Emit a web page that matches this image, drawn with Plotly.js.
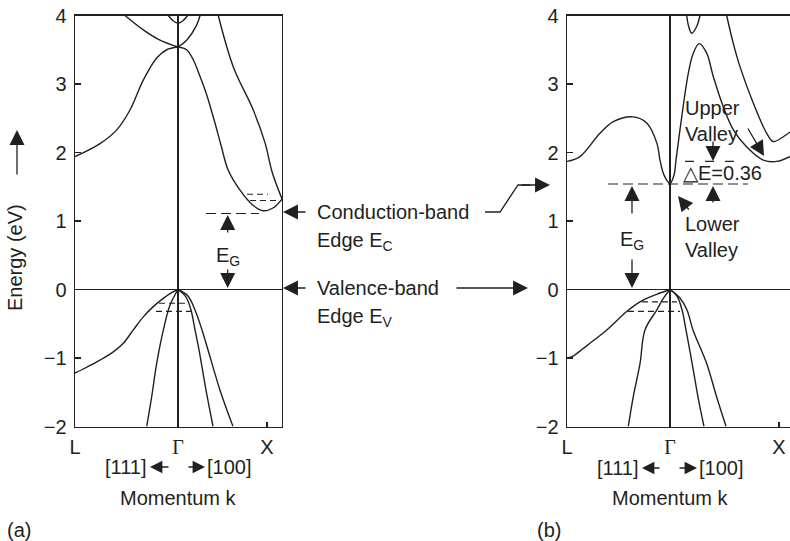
<!DOCTYPE html>
<html><head><meta charset="utf-8">
<script src="https://cdn.plot.ly/plotly-3.0.1.min.js"></script>
<style>html,body{margin:0;padding:0;background:#fff}#c{width:790px;height:541px}</style>
</head><body><div id="c"></div>
<script>
// ---------- (a) Si band structure (k: L=-1, Γ=0, X=0.864) ----------
const a_cond1_k = [-1, -0.757, -0.595, -0.466, -0.336, -0.207, -0.110, 0];
const a_cond1_E = [1.94, 2.13, 2.33, 2.62, 3.06, 3.38, 3.50, 3.54];
const a_cond2_k = [0, 0.084, 0.149, 0.214, 0.279, 0.359, 0.417, 0.488, 0.602, 0.728, 0.828, 0.922, 1.01];
const a_cond2_E = [3.54, 3.50, 3.35, 3.11, 2.84, 2.43, 2.11, 1.74, 1.45, 1.23, 1.15, 1.19, 1.32];
const a_cond3_k = [0.391, 0.537, 0.731, 0.845, 0.913, 1.01];
const a_cond3_E = [4.0, 3.25, 2.62, 2.14, 1.72, 1.32];
const a_top1_k = [-0.515, -0.337, -0.175, 0];
const a_top1_E = [4.0, 3.79, 3.64, 3.54];
const a_top2_k = [0, 0.084, 0.181, 0.214];
const a_top2_E = [3.54, 3.64, 3.86, 4.0];
const a_cap_k = [-0.094, -0.045, 0, 0.045, 0.094];
const a_cap_E = [4.0, 3.92, 3.89, 3.92, 4.0];
const a_hh_k = [-1, -0.887, -0.757, -0.628, -0.531, -0.434, -0.337, -0.240, -0.143, -0.062, 0];
const a_hh_E = [-1.22, -1.135, -1.03, -0.91, -0.785, -0.59, -0.40, -0.25, -0.13, -0.047, 0];
const a_lh_k = [-0.304, -0.255, -0.207, -0.142, -0.078, 0];
const a_lh_E = [-2.0, -1.56, -1.08, -0.59, -0.23, 0];
const a_r1_k = [0, 0.078, 0.126, 0.165, 0.204, 0.272, 0.340];
const a_r1_E = [0, -0.11, -0.30, -0.59, -0.88, -1.47, -2.0];
const a_r2_k = [0, 0.097, 0.165, 0.233, 0.291, 0.408, 0.534];
const a_r2_E = [0, -0.095, -0.30, -0.59, -0.88, -1.47, -2.0];
// dashed levels (a)
const a_dv1_k = [-0.184, 0.087], a_dv1_E = [-0.20, -0.20];
const a_dv2_k = [-0.214, 0.146], a_dv2_E = [-0.32, -0.32];
const a_dc1_k = [0.670, 0.874], a_dc1_E = [1.39, 1.39];
const a_dc2_k = [0.699, 0.971], a_dc2_E = [1.30, 1.30];
const a_ec_k = [0.272, 0.786], a_ec_E = [1.11, 1.11];

// ---------- (b) GaAs band structure (k: L=-1, Γ=0, X=1.058) ----------
const b_cond_k = [-1.0, -0.874, -0.680, -0.550, -0.356, -0.226, -0.126, -0.097, -0.058, 0, 0.039, 0.058, 0.114, 0.178, 0.226, 0.284, 0.356, 0.420, 0.517, 0.615, 0.745, 0.906, 1.036, 1.165];
const b_cond_E = [1.87, 1.94, 2.28, 2.45, 2.52, 2.43, 2.13, 1.89, 1.67, 1.55, 1.67, 1.89, 2.52, 3.16, 3.45, 3.59, 3.45, 3.11, 2.67, 2.33, 2.08, 1.89, 1.87, 1.94];
const b_up_k = [0.550, 0.615, 0.680, 0.809, 0.939, 1.003, 1.100, 1.165];
const b_up_E = [4.0, 3.59, 3.25, 2.72, 2.28, 2.16, 2.23, 2.30];
const b_cap_k = [0.162, 0.178, 0.210, 0.259, 0.291];
const b_cap_E = [4.0, 3.86, 3.74, 3.84, 4.0];
const b_hh_k = [-1.0, -0.951, -0.841, -0.777, -0.614, -0.420, -0.291, -0.129, 0];
const b_hh_E = [-1.0, -0.98, -0.86, -0.785, -0.59, -0.32, -0.18, -0.07, 0];
const b_lh_k = [-0.405, -0.356, -0.291, -0.243, -0.129, -0.065, 0];
const b_lh_E = [-2.0, -1.56, -1.08, -0.59, -0.30, -0.13, 0];
const b_r1_k = [0, 0.068, 0.117, 0.155, 0.214, 0.272, 0.330];
const b_r1_E = [0, -0.095, -0.30, -0.59, -1.07, -1.57, -2.0];
const b_r2_k = [0, 0.097, 0.165, 0.223, 0.356, 0.453, 0.544];
const b_r2_E = [0, -0.124, -0.30, -0.59, -1.08, -1.57, -2.0];
// dashed levels (b)
const b_dv1_k = [-0.272, 0.068], b_dv1_E = [-0.18, -0.18];
const b_dv2_k = [-0.408, 0.097], b_dv2_E = [-0.32, -0.32];
const b_dl_k = [-0.602, 0.757], b_dl_E = [1.54, 1.54];
const b_du_k = [0.146, 0.660], b_du_E = [1.87, 1.87];

// axis ticks
const yTicks = [-2, -1, 0, 1, 2, 3, 4];
const aXTicks = [-1, 0, 0.864];
const bXTicks = [-1, 0, 1.058];
const kLabels = ['L', '<span style="font-family:\'Liberation Serif\',serif">Γ</span>', 'X'];

const INK = '#231f20';
const FONT = 'Liberation Sans, Arial, sans-serif';

function band(k, E, ax, dash, w) {
  return {x: k, y: E, type: 'scatter', mode: 'lines', xaxis: ax === 'b' ? 'x2' : 'x', yaxis: ax === 'b' ? 'y2' : 'y',
    line: {color: INK, width: w || 1.4, shape: dash ? 'linear' : 'spline', dash: dash || 'solid'},
    hoverinfo: 'skip', showlegend: false};
}

const traces = [
  band(a_cond1_k, a_cond1_E, 'a'), band(a_cond2_k, a_cond2_E, 'a'), band(a_cond3_k, a_cond3_E, 'a'),
  band(a_top1_k, a_top1_E, 'a'), band(a_top2_k, a_top2_E, 'a'), band(a_cap_k, a_cap_E, 'a'),
  band(a_hh_k, a_hh_E, 'a'), band(a_lh_k, a_lh_E, 'a'), band(a_r1_k, a_r1_E, 'a'), band(a_r2_k, a_r2_E, 'a'),
  band(a_dv1_k, a_dv1_E, 'a', '6px,4px', 1.1), band(a_dv2_k, a_dv2_E, 'a', '6px,4px', 1.1),
  band(a_dc1_k, a_dc1_E, 'a', '6px,4px', 1.1), band(a_dc2_k, a_dc2_E, 'a', '6px,4px', 1.1),
  band(a_ec_k, a_ec_E, 'a', '10px,5px', 1.1),
  band(b_cond_k, b_cond_E, 'b'), band(b_up_k, b_up_E, 'b'), band(b_cap_k, b_cap_E, 'b'),
  band(b_hh_k, b_hh_E, 'b'), band(b_lh_k, b_lh_E, 'b'), band(b_r1_k, b_r1_E, 'b'), band(b_r2_k, b_r2_E, 'b'),
  band(b_dv1_k, b_dv1_E, 'b', '6px,4px', 1.1), band(b_dv2_k, b_dv2_E, 'b', '6px,4px', 1.1),
  band(b_dl_k, b_dl_E, 'b', '10px,5px', 1.1), band(b_du_k, b_du_E, 'b', '9px,11px', 1.1)
];

const W = 790, H = 541;
const px = x => x / W, py = y => 1 - y / H;

function arr(tx, ty, hx, hy, s) {
  return {xref: 'paper', yref: 'paper', x: px(hx), y: py(hy), ax: tx - hx, ay: ty - hy, text: '',
    showarrow: true, arrowhead: 2, arrowsize: s || 2.3, arrowwidth: 1.3, arrowcolor: INK, standoff: 0, startstandoff: 0};
}
function txt(t, x, y, xa, extra) {
  return Object.assign({xref: 'paper', yref: 'paper', x: px(x), y: py(y), text: t, showarrow: false,
    xanchor: xa || 'center', yanchor: 'middle', align: 'left', font: {family: FONT, size: 20, color: INK}}, extra || {});
}

const annotations = [
  // panel (a)
  arr(227.7, 234, 227.7, 215), txt('E<sub>G</sub>', 228, 256), arr(227.7, 268, 227.7, 288),
  txt('Energy (eV)', 15, 258, 'center', {textangle: -90}), arr(17, 176, 17, 130),
  txt('[111]', 149, 467, 'right'), arr(170, 467, 150, 467, 1.9), arr(187, 467, 205, 467, 1.9), txt('[100]', 205, 467, 'left'),
  txt('Momentum k', 178, 498), txt('(a)', 5, 530, 'left'),
  // middle
  arr(307, 212, 283, 212), txt('Conduction-band', 315, 212, 'left'), txt('Edge E<sub>C</sub>', 315, 241, 'left'),
  arr(307, 288, 283, 288), txt('Valence-band', 315, 288, 'left'), txt('Edge E<sub>V</sub>', 315, 317, 'left'),
  arr(455, 288, 528, 288), arr(520, 185, 550, 185),
  // panel (b)
  arr(632, 215, 632, 186), txt('E<sub>G</sub>', 632, 240), arr(632, 258, 632, 288),
  txt('Upper<br>Valley', 683, 121, 'left'), arr(713, 140, 713, 161), arr(747, 127, 764, 156),
  txt('△E=0.36', 681, 173, 'left'), arr(713, 204, 713, 186),
  txt('Lower<br>Valley', 683, 237, 'left'), arr(690, 211, 678, 196),
  txt('[111]', 641, 468, 'right'), arr(661, 468, 642, 468, 1.9), arr(678, 468, 697, 468, 1.9), txt('[100]', 697, 468, 'left'),
  txt('Momentum k', 670, 498), txt('(b)', 535, 530, 'left')
];

const shapes = [
  {type: 'path', xref: 'paper', yref: 'paper',
   path: `M ${px(485)},${py(212)} L ${px(500)},${py(212)} L ${px(518)},${py(185)} L ${px(530)},${py(185)}`,
   line: {color: INK, width: 1.3}}
];

const yDomain = [1 - 426.5 / H, 1 - 15.5 / H];
const baseY = {range: [-2, 4], tickvals: yTicks, ticks: 'inside', ticklen: 6, tickwidth: 1.3, tickcolor: INK,
  showline: true, linecolor: INK, linewidth: 1.4, showgrid: false, zeroline: true, zerolinecolor: INK, zerolinewidth: 1.2,
  tickfont: {family: FONT, size: 20, color: INK}, ticklabelstandoff: 3, domain: yDomain, fixedrange: true};
const baseX = {ticks: 'inside', ticklen: 5, tickwidth: 1.3, tickcolor: INK, showline: true, linecolor: INK, linewidth: 1.4,
  showgrid: false, zeroline: true, zerolinecolor: INK, zerolinewidth: 1.1, ticktext: kLabels,
  tickfont: {family: FONT, size: 20, color: INK}, ticklabelstandoff: 2, fixedrange: true};

const layout = {
  width: W, height: H, margin: {l: 0, r: 0, t: 0, b: 0}, paper_bgcolor: '#fff', plot_bgcolor: '#fff',
  showlegend: false,
  xaxis: Object.assign({}, baseX, {domain: [75 / W, 282 / W], range: [-1, 1.0097], tickvals: aXTicks, anchor: 'y', mirror: true}),
  yaxis: Object.assign({}, baseY, {anchor: 'x', mirror: true}),
  xaxis2: Object.assign({}, baseX, {domain: [567 / W, 1], range: [-1, 1.165], tickvals: bXTicks, anchor: 'y2', mirror: true}),
  yaxis2: Object.assign({}, baseY, {anchor: 'x2', mirror: false}),
  annotations: annotations, shapes: shapes
};

Plotly.newPlot('c', traces, layout, {staticPlot: true, displayModeBar: false});
</script></body></html>
